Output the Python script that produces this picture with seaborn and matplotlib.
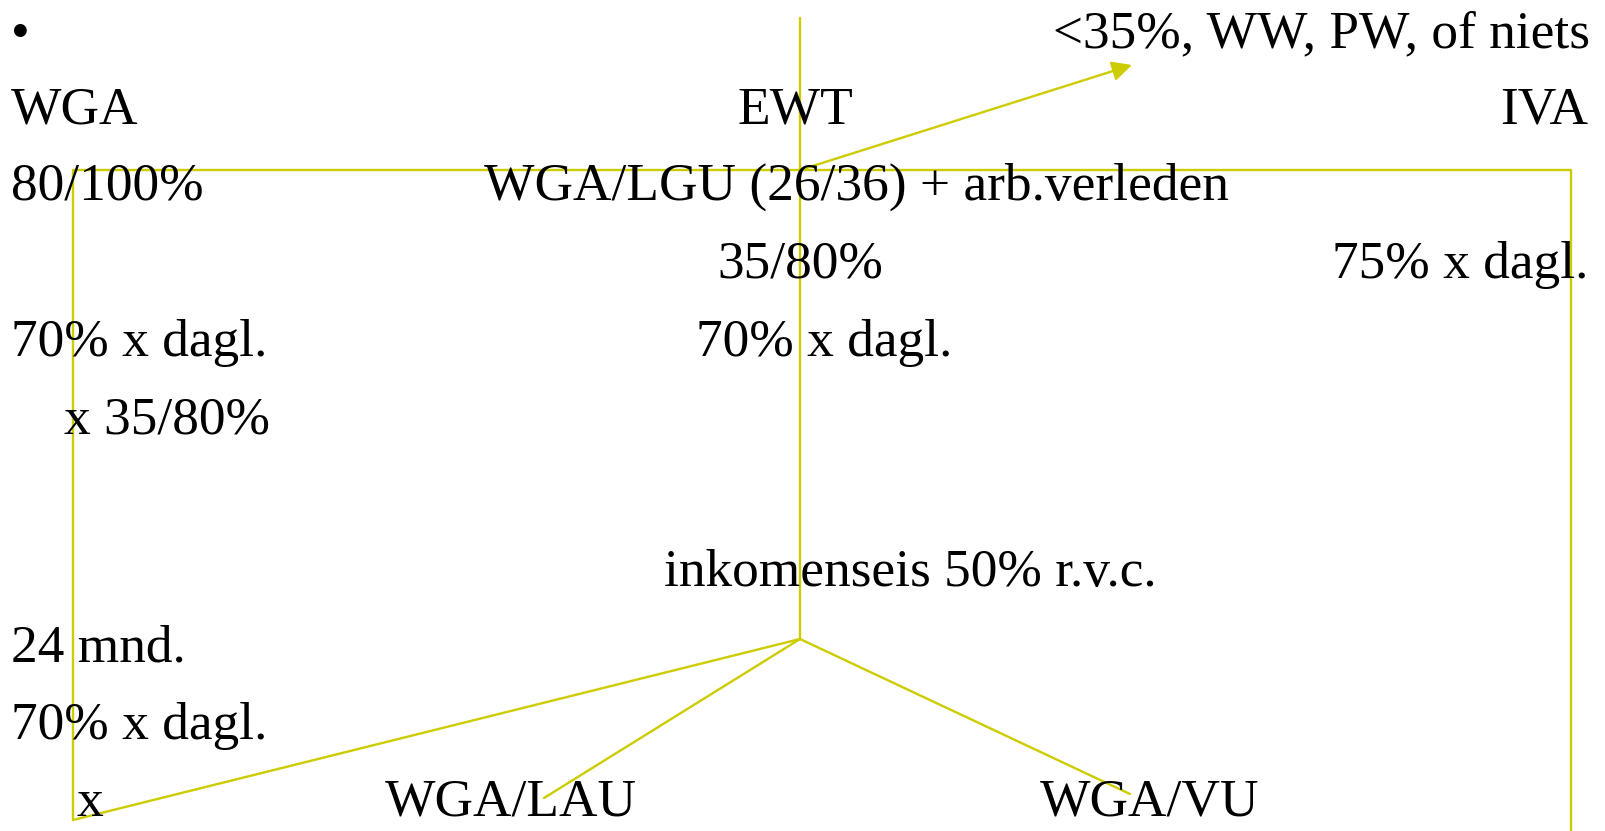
import matplotlib
matplotlib.use("Agg")
import matplotlib.pyplot as plt
import seaborn as sns
import pandas as pd

sns.set_theme(style="white")
plt.rcParams['font.family'] = ['Liberation Serif', 'DejaVu Serif']

W, H = 1606, 831
LINE = "#CCCC00"

# connector segments of the scheme (pixel space, y downwards)
seg_id = [0, 0, 1, 1, 2, 2, 3, 3, 4, 4, 5, 5, 6, 6]
seg_x = [800, 800, 73, 1571, 73, 73, 1571, 1571, 800, 73, 800, 544, 800, 1130]
seg_y = [18, 639, 170, 170, 170, 820, 170, 831, 639, 820, 639, 798, 639, 794]

# arrow towards "<35%..." (start, end)
arrow_from = (800, 170)
arrow_to = (1132, 65)

# text labels
labels = ["•", "<35%, WW, PW, of niets",
          "WGA", "EWT", "IVA",
          "80/100%", "WGA/LGU (26/36) + arb.verleden",
          "35/80%", "75% x dagl.",
          "70% x dagl.", "70% x dagl.",
          "x 35/80%",
          "inkomenseis 50% r.v.c.",
          "24 mnd.",
          "70% x dagl.",
          "x", "WGA/LAU", "WGA/VU"]
label_x = [11, 1590, 11, 795, 1588, 11, 484, 717, 1588, 11, 696, 64, 664, 11, 11, 77, 385, 1040]
label_y = [48, 47, 123, 123, 123, 200, 200, 278, 278, 356, 356, 433, 586, 662, 739, 816, 816, 816]
label_ha = ["left", "right", "left", "center", "right", "left", "left", "left", "right",
            "left", "left", "left", "left", "left", "left", "left", "left", "left"]

df = pd.DataFrame({"seg": seg_id, "x": seg_x, "y": seg_y})

fig = plt.figure(figsize=(W / 100, H / 100), dpi=100)
ax = fig.add_axes([0, 0, 1, 1])

sns.lineplot(data=df, x="x", y="y", units="seg", estimator=None, sort=False,
             color=LINE, linewidth=1.7, ax=ax, legend=False)

ax.annotate("", xy=arrow_to, xytext=arrow_from,
            arrowprops=dict(arrowstyle="-|>,head_length=1.0,head_width=0.5",
                            color=LINE, lw=1.7, shrinkA=0, shrinkB=0))

for txt, x, y, ha in zip(labels, label_x, label_y, label_ha):
    ax.text(x, y, txt, ha=ha, va="baseline", fontsize=38.4, color="black")

ax.set_xlim(0, W)
ax.set_ylim(H, 0)
ax.set_axis_off()

fig.savefig("out.png", dpi=100, facecolor="white")
